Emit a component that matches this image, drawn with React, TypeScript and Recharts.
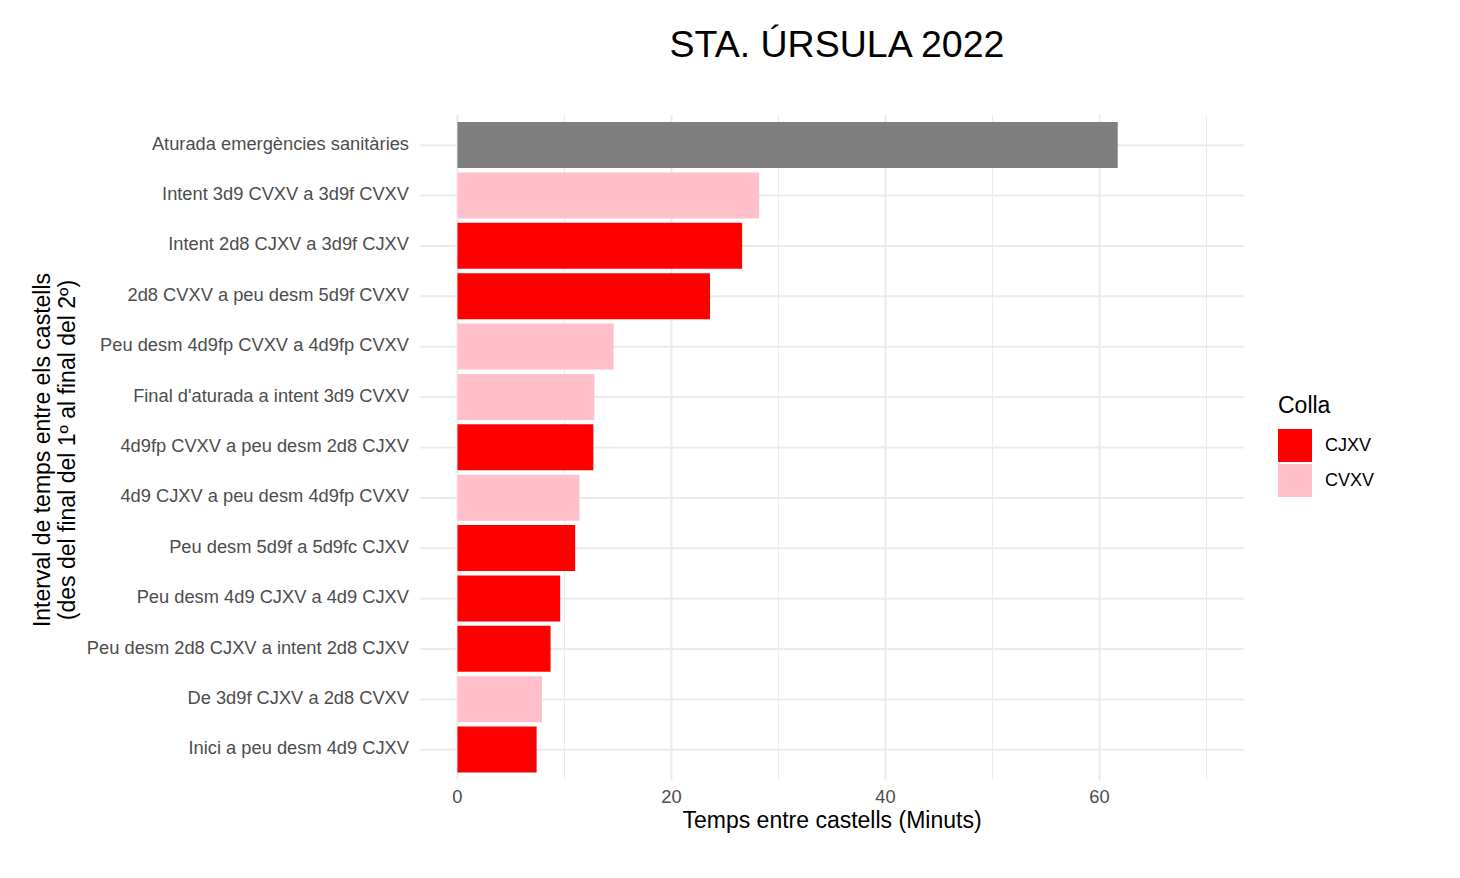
import React from 'react';
import { BarChart, Bar, XAxis, YAxis, CartesianGrid, Cell } from 'recharts';

// intervals, top to bottom as drawn
const intervals = [
  "Aturada emergències sanitàries",
  "Intent 3d9 CVXV a 3d9f CVXV",
  "Intent 2d8 CJXV a 3d9f CJXV",
  "2d8 CVXV a peu desm 5d9f CVXV",
  "Peu desm 4d9fp CVXV a 4d9fp CVXV",
  "Final d'aturada a intent 3d9 CVXV",
  "4d9fp CVXV a peu desm 2d8 CJXV",
  "4d9 CJXV a peu desm 4d9fp CVXV",
  "Peu desm 5d9f a 5d9fc CJXV",
  "Peu desm 4d9 CJXV a 4d9 CJXV",
  "Peu desm 2d8 CJXV a intent 2d8 CJXV",
  "De 3d9f CJXV a 2d8 CVXV",
  "Inici a peu desm 4d9 CJXV",
];
const minutes = [61.7, 28.2, 26.6, 23.6, 14.6, 12.8, 12.7, 11.4, 11.0, 9.6, 8.7, 7.9, 7.4];
const colla = [null, 'CVXV', 'CJXV', 'CJXV', 'CVXV', 'CVXV', 'CJXV', 'CVXV', 'CJXV', 'CJXV', 'CJXV', 'CVXV', 'CJXV'];

const collaNames = ['CJXV', 'CVXV'];
const collaColors: Record<string, string> = { CJXV: '#FF0000', CVXV: '#FFC0CB' };
const naColor = '#7F7F7F';

const xDomain = [-3.5, 73.5];
const majorTicks = [0, 20, 40, 60];
const minorTicks = [10, 30, 50, 70];

const data = intervals.map((name, i) => ({ name, minutes: minutes[i], colla: colla[i] }));

const FONT = '"Liberation Sans", Arial, sans-serif';

// minor vertical grid lines (ggplot style), mapped into the plot area
const minorGen = ({ offset }: any) =>
  minorTicks.map((v) => offset.left + ((v - xDomain[0]) / (xDomain[1] - xDomain[0])) * offset.width);

const LegendBox = () => (
  <div style={{ position: 'absolute', left: 1278, top: 390, fontFamily: FONT }}>
    <div style={{ fontSize: 23, lineHeight: '30px', color: '#000', marginBottom: 8 }}>Colla</div>
    {collaNames.map((c) => (
      <div key={c} style={{ display: 'flex', alignItems: 'center', height: 35 }}>
        <div style={{ width: 34, height: 33, background: collaColors[c] }} />
        <span style={{ marginLeft: 13, fontSize: 18, color: '#000' }}>{c}</span>
      </div>
    ))}
  </div>
);

export default function App() {
  return (
    <div style={{ position: 'absolute', left: 0, top: 0, width: 1460, height: 878, background: '#fff', fontFamily: FONT }}>
      <div style={{ position: 'absolute', left: 420, width: 834, top: 22, textAlign: 'center', fontSize: 37.5, lineHeight: '44px', color: '#000' }}>
        STA. ÚRSULA 2022
      </div>
      <div style={{ position: 'absolute', left: 420, width: 824, top: 806, textAlign: 'center', fontSize: 23, lineHeight: '28px', color: '#000' }}>
        Temps entre castells (Minuts)
      </div>
      <div
        style={{
          position: 'absolute', left: 55 - 250, top: 450 - 25, width: 500, height: 50,
          transform: 'rotate(-90deg)', textAlign: 'center', fontSize: 23, lineHeight: '25px', color: '#000',
        }}
      >
        Interval de temps entre els castells<br />(des del final del 1º al final del 2º)
      </div>
      <LegendBox />
      <div style={{ position: 'absolute', left: 0, top: 0 }}>
        <BarChart
          width={1460}
          height={878}
          data={data}
          layout="vertical"
          margin={{ top: 115, right: 216, bottom: 58, left: 0 }}
          barSize={46}
        >
          <CartesianGrid horizontal={false} verticalCoordinatesGenerator={minorGen} stroke="#EBEBEB" strokeWidth={1} />
          <CartesianGrid stroke="#EBEBEB" strokeWidth={2} syncWithTicks />
          <XAxis
            type="number"
            domain={xDomain}
            ticks={majorTicks}
            allowDataOverflow
            axisLine={false}
            tickLine={false}
            tickSize={0}
            tickMargin={10}
            height={40}
            tick={{ fontSize: 18.3, fill: '#4D4D4D', fontFamily: FONT }}
          />
          <YAxis
            type="category"
            dataKey="name"
            width={420}
            padding={{ top: 5, bottom: 5 }}
            axisLine={false}
            tickLine={false}
            tickSize={0}
            tickMargin={11}
            interval={0}
            tick={{ fontSize: 18.3, fill: '#4D4D4D', fontFamily: FONT, dy: -2 }}
          />
          <Bar dataKey="minutes" isAnimationActive={false}>
            {data.map((d, i) => (
              <Cell key={i} fill={d.colla ? collaColors[d.colla] : naColor} />
            ))}
          </Bar>
        </BarChart>
      </div>
    </div>
  );
}
